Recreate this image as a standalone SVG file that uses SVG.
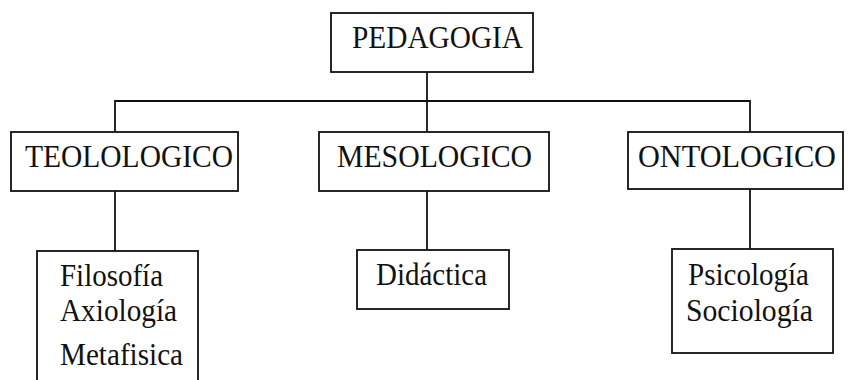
<svg xmlns="http://www.w3.org/2000/svg" width="849" height="380" viewBox="0 0 849 380">
  <style>
    .box { fill: #fff; stroke: #111; stroke-width: 1.8; }
    .link { fill: none; stroke: #111; stroke-width: 1.8; }
    .lbl { font-family: "Liberation Serif", "Times New Roman", serif; font-size: 31px; fill: #111; }
  </style>
  <rect width="849" height="380" fill="#fff"/>

  <!-- tree connectors -->
  <g id="connectors">
    <path class="link" d="M427 72 V101"/>
    <path class="link" d="M115 132 V101 H750 V132"/>
    <path class="link" d="M427 101 V132"/>
    <path class="link" d="M115 191 V251"/>
    <path class="link" d="M427 191 V250"/>
    <path class="link" d="M750 189 V249"/>
  </g>

  <g id="pedagogia">
    <rect class="box" x="331" y="13" width="202" height="59"/>
    <text class="lbl" x="352" y="48" textLength="171" lengthAdjust="spacingAndGlyphs" font-size="33">PEDAGOGIA</text>
  </g>

  <g id="teolologico">
    <rect class="box" x="11" y="132" width="227" height="59"/>
    <text class="lbl" x="25" y="167" textLength="208" lengthAdjust="spacingAndGlyphs">TEOLOLOGICO</text>
  </g>

  <g id="mesologico">
    <rect class="box" x="319" y="132" width="230" height="59"/>
    <text class="lbl" x="337" y="167" textLength="195" lengthAdjust="spacingAndGlyphs">MESOLOGICO</text>
  </g>

  <g id="ontologico">
    <rect class="box" x="628" y="132" width="215" height="57"/>
    <text class="lbl" x="638" y="167" textLength="198" lengthAdjust="spacingAndGlyphs">ONTOLOGICO</text>
  </g>

  <g id="filosofia">
    <rect class="box" x="37" y="251" width="161" height="140"/>
    <text class="lbl" x="60" y="286" textLength="103" lengthAdjust="spacingAndGlyphs" font-size="29">Filosofía</text>
    <text class="lbl" x="60" y="321" textLength="117" lengthAdjust="spacingAndGlyphs" font-size="29">Axiología</text>
    <text class="lbl" x="60" y="365" textLength="123" lengthAdjust="spacingAndGlyphs" font-size="29">Metafisica</text>
  </g>

  <g id="didactica">
    <rect class="box" x="357" y="250" width="152" height="59"/>
    <text class="lbl" x="376" y="285" textLength="111" lengthAdjust="spacingAndGlyphs" font-size="29">Didáctica</text>
  </g>

  <g id="psicologia">
    <rect class="box" x="672" y="249" width="161" height="104"/>
    <text class="lbl" x="688" y="285" textLength="121" lengthAdjust="spacingAndGlyphs" font-size="29">Psicología</text>
    <text class="lbl" x="686" y="321" textLength="127" lengthAdjust="spacingAndGlyphs" font-size="29">Sociología</text>
  </g>
</svg>
